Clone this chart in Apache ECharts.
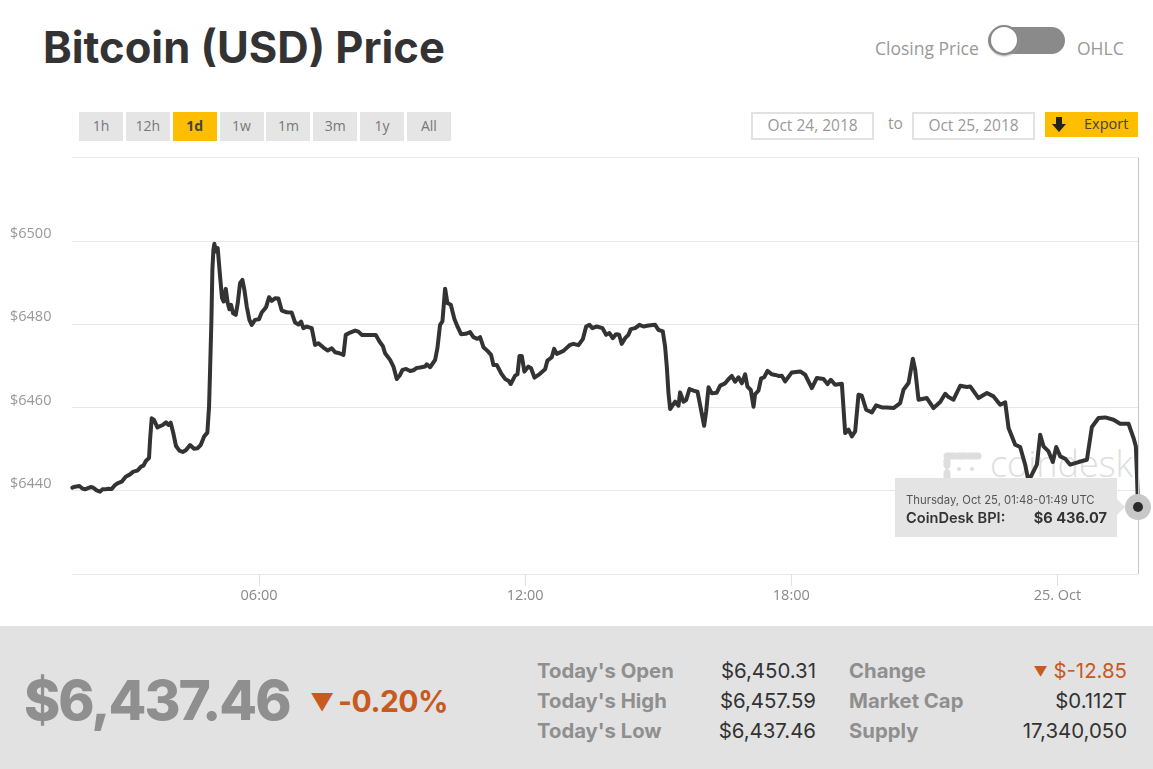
<!DOCTYPE html>
<html>
<head>
<meta charset="utf-8">
<title>Bitcoin (USD) Price</title>
<script src="https://cdn.jsdelivr.net/npm/echarts@6/dist/echarts.min.js"></script>
<style>
  html, body { margin: 0; padding: 0; background: #fff; }
  body { width: 1153px; height: 769px; position: relative; overflow: hidden; font-family: Inter, "Open Sans", sans-serif; }
  .t { position: absolute; white-space: nowrap; line-height: 1; }
  .btn { position: absolute; top: 112px; width: 44px; height: 29px; line-height: 27px; text-align: center; background: #e5e5e5; color: #777; font-size: 14px; font-family: "Open Sans", sans-serif; }
  .btn.on { background: #fdbd00; color: #444; font-weight: 700; }
  .date { position: absolute; top: 112px; width: 119px; height: 24px; line-height: 22px; border: 2px solid #e2e2e2; text-align: center; color: #999; font-size: 15.5px; font-family: "Open Sans", sans-serif; }
  #chart { position: absolute; left: 0; top: 0; width: 1153px; height: 769px; }
  #strip { position: absolute; left: 0; top: 626px; width: 1153px; height: 143px; background: #e2e2e2; }
  .lbl { font-weight: 700; font-size: 20.3px; color: #8f8f8f; }
  .val { font-size: 20.4px; color: #333; text-align: right; }
</style>
</head>
<body>
<div class="t" style="left:43px;top:26px;font-size:43.5px;font-weight:700;color:#333">Bitcoin (USD) Price</div>
<div class="t" style="left:875px;top:40px;font-size:17.5px;color:#999;font-family:'Open Sans'">Closing Price</div>
<div style="position:absolute;left:988px;top:27px;width:77px;height:27px;border-radius:14px;background:#8a8a8a"></div>
<div style="position:absolute;left:989px;top:25px;width:26px;height:26px;border-radius:50%;background:#fff;border:2px solid #888;box-shadow:0 1px 2px #999"></div>
<div class="t" style="left:1077px;top:40px;font-size:17.5px;color:#999;font-family:'Open Sans'">OHLC</div>

<div id="buttons"></div>
<div class="date" style="left:751px">Oct 24, 2018</div>
<div class="t" style="left:888px;top:116px;font-size:15.5px;color:#999;font-family:'Open Sans'">to</div>
<div class="date" style="left:912px">Oct 25, 2018</div>
<div style="position:absolute;left:1045px;top:112px;width:93px;height:25px;background:#fdbd00"></div>
<svg style="position:absolute;left:1051px;top:116px" width="16" height="17" viewBox="0 0 16 17"><path d="M5 1h6v7h4l-7 8-7-8h4z" fill="#222"/></svg>
<div class="t" style="left:1084px;top:117px;font-size:14.5px;color:#444;font-family:'Open Sans'">Export</div>

<!-- watermark sits under the chart canvas -->
<svg style="position:absolute;left:942px;top:449px" width="40" height="34" viewBox="0 0 40 34">
  <path d="M5 7h8M17 7h6M27 7h9" stroke="#dedede" stroke-width="7" stroke-linecap="round"/>
  <path d="M13 7h4M23 7h4" stroke="#dedede" stroke-width="3"/>
  <path d="M5 12v4M5 24v4" stroke="#dedede" stroke-width="7" stroke-linecap="round"/>
  <path d="M5 16v8" stroke="#dedede" stroke-width="3"/>
  <circle cx="17" cy="20" r="2" fill="#dedede"/><circle cx="30" cy="20" r="2" fill="#dedede"/>
</svg>
<div class="t" style="left:990px;top:446px;font-size:36px;color:#dedede;font-family:'Open Sans';font-weight:300">coindesk</div>

<div id="chart"></div>

<div id="strip"></div>
<div class="t" style="left:24px;top:673px;font-size:55px;font-weight:800;color:#8f8f8f;letter-spacing:-2px">$6,437.46</div>
<div class="t" style="left:310px;top:691px;font-size:24px;color:#c8591f">▼</div>
<div class="t" style="left:338px;top:686px;font-size:30px;font-weight:700;color:#c8591f;letter-spacing:-0.5px">-0.20%</div>
<div id="stats"></div>

<script>
var minutes = [
  107.5, 111.1, 117, 121.5, 124.6, 127.8, 132.3, 135.9, 140.4, 144.9, 148.1, 151.7, 156.2, 160.7, 165.2, 168.4,
  174.2, 179.6, 185.5, 190, 195.4, 200.4, 203.5, 207.2, 211.2, 212.6, 214.8, 218, 222.5, 225.2, 229.7, 234.2,
  237.4, 240.5, 244.1, 247.7, 252.3, 256.8, 261.3, 266.7, 272.1, 276.6, 281.1, 285.6, 290.1, 292.4, 293.8, 295.6,
  296.9, 298.3, 299.6, 301.9, 304.1, 307.3, 310, 312.2, 315, 317.7, 319.9, 322.2, 324.9, 328.5, 331.2, 334.3,
  337.5, 340.2, 343.4, 347, 350.1, 354.6, 360, 363.6, 369.5, 373.6, 377.2, 381.7, 386.2, 390.7, 397.5, 404.2,
  408.8, 413.3, 416.9, 420, 424.5, 431.3, 435.8, 440.3, 447.1, 453, 458.4, 462.9, 468.7, 474.2, 477.3, 483.2,
  490, 494.4, 499, 505.7, 512.5, 517.9, 522.9, 527.4, 530.5, 537.3, 541.8, 546.3, 550.8, 554, 559, 564.4,
  568.9, 573.4, 577.9, 584.6, 586.9, 591.4, 598.2, 601.3, 604.9, 608.1, 611.7, 614.8, 619.4, 624.3, 628.4, 633.3,
  639.6, 645.5, 650, 655.4, 659, 663.6, 669, 673.9, 677.1, 681.6, 687.5, 692.9, 697.4, 700.5, 706.4, 709.6,
  712.3, 715.4, 719, 724.4, 728, 732.6, 738, 747, 750.1, 756, 759.2, 762.8, 771.8, 780.8, 785.3, 792.1,
  798, 802.5, 807, 811, 816.9, 824.6, 829.5, 834, 838.5, 843, 847.1, 850.7, 855.2, 859.7, 862.9, 868.8,
  874.6, 880, 886.8, 895.8, 900.3, 906.2, 909.3, 911.6, 913.9, 916.1, 922.9, 927.4, 929.6, 934.2, 937.8, 942.3,
  947.7, 953.1, 956.7, 962.1, 964.8, 968, 972.5, 979.2, 983.8, 990.5, 995, 999.5, 1004, 1008.6, 1013.1, 1017.6,
  1020.7, 1025.2, 1028.9, 1031.1, 1035.6, 1039.2, 1043.3, 1047.8, 1053.7, 1058.2, 1062.7, 1067.2, 1071.7, 1080.7, 1092, 1098.8,
  1107.8, 1114.5, 1123.6, 1129, 1133.5, 1139.3, 1148.4, 1152.9, 1157.4, 1161.9, 1166.4, 1170.9, 1175.4, 1181.3, 1189, 1194.8,
  1202.5, 1209.3, 1218.3, 1227.3, 1231.8, 1238.6, 1244.4, 1247.6, 1252.1, 1263.4, 1272.4, 1281.4, 1288.2, 1292.7, 1299.4, 1308.5,
  1317.5, 1322, 1333.3, 1344.6, 1353.6, 1362.6, 1369.4, 1373.9, 1382.9, 1389.6, 1396.4, 1400.9, 1405.4, 1412.2, 1416.7, 1421.2,
  1428, 1433.8, 1438.4, 1443.8, 1450.5, 1457.3, 1468.6, 1479.9, 1486.6, 1495.6, 1504.7, 1515.9, 1524.9, 1536.2, 1543, 1546.1,
  1547.5, 1549
];
var prices = [
  6440.72, 6440.96, 6441.12, 6440.48, 6440.32, 6440.56, 6440.88, 6440.72, 6440.08, 6439.76, 6440.32, 6440.32, 6440.48, 6440.40, 6441.36, 6441.76,
  6442.16, 6443.36, 6443.92, 6444.57, 6444.81, 6445.77, 6446.01, 6447.21, 6447.85, 6452.18, 6457.38, 6456.98, 6455.22, 6454.82, 6455.78, 6456.42,
  6455.78, 6456.34, 6453.78, 6450.73, 6449.61, 6449.29, 6449.77, 6450.97, 6450.09, 6450.17, 6450.97, 6452.98, 6453.94, 6460.19, 6469.0, 6481.01,
  6493.03, 6497.83, 6499.27, 6497.43, 6498.23, 6491.42, 6486.22, 6485.42, 6488.46, 6485.02, 6483.57, 6484.62, 6482.61, 6482.21, 6485.02, 6489.82,
  6490.62, 6488.22, 6484.22, 6481.01, 6479.81, 6481.01, 6481.17, 6482.77, 6484.06, 6486.46, 6485.58, 6486.22, 6486.14, 6483.25, 6482.85, 6482.77,
  6480.37, 6479.89, 6480.61, 6479.01, 6479.41, 6479.01, 6475.0, 6475.4, 6474.36, 6473.64, 6474.2, 6473.24, 6473.0, 6472.6, 6477.41, 6477.97,
  6478.45, 6478.21, 6477.41, 6477.41, 6477.41, 6477.41, 6475.81, 6474.76, 6473.0, 6471.4, 6469.8, 6466.83, 6467.79, 6469.0, 6469.24, 6468.76,
  6468.92, 6469.48, 6469.56, 6469.80, 6470.36, 6469.64, 6471.40, 6474.21, 6479.83, 6480.64, 6488.51, 6485.05, 6484.65, 6481.2, 6479.43, 6477.59,
  6477.67, 6478.07, 6476.86, 6476.46, 6476.86, 6474.45, 6473.57, 6472.61, 6470.2, 6470.2, 6468.19, 6466.83, 6466.42, 6465.62, 6467.63, 6467.95,
  6472.37, 6472.37, 6468.59, 6469.8, 6469.4, 6467.15, 6467.79, 6469.15, 6471.24, 6472.05, 6474.05, 6472.85, 6473.57, 6475.02, 6475.26, 6474.94,
  6476.38, 6479.43, 6479.83, 6479.03, 6479.43, 6479.03, 6477.43, 6477.83, 6476.62, 6477.59, 6477.43, 6475.26, 6476.62, 6477.43, 6478.79, 6479.03,
  6479.83, 6479.43, 6479.67, 6479.83, 6478.63, 6478.23, 6474.61, 6469.8, 6463.37, 6459.6, 6461.37, 6460.4, 6463.61, 6461.37, 6461.77, 6464.42,
  6464.02, 6463.77, 6460.56, 6455.58, 6458.96, 6464.82, 6463.37, 6463.53, 6465.22, 6465.78, 6466.75, 6467.55, 6466.18, 6467.23, 6465.78, 6467.95,
  6464.98, 6464.18, 6460.16, 6463.21, 6464.02, 6466.99, 6467.23, 6468.75, 6467.95, 6467.79, 6467.55, 6467.6, 6466.24, 6468.4, 6468.64, 6467.84,
  6464.64, 6467.04, 6466.8, 6465.6, 6466.64, 6465.44, 6465.68, 6453.84, 6454.64, 6453.04, 6454.24, 6463.04, 6462.8, 6459.44, 6458.8, 6460.48,
  6460, 6460, 6459.84, 6461.04, 6464.24, 6465.84, 6471.68, 6469.04, 6461.84, 6462.24, 6459.84, 6461.28, 6463.28, 6462.48, 6461.84, 6465.2,
  6464.88, 6465.04, 6462.24, 6463.44, 6462.64, 6460.64, 6461.2, 6455.04, 6451.04, 6450.48, 6446.24, 6442.24, 6443.84, 6446.24, 6453.44, 6450.64,
  6449.44, 6446.88, 6450.48, 6448.24, 6447.68, 6446.24, 6446.88, 6447.44, 6455.28, 6457.44, 6457.6, 6457.04, 6456.08, 6456.08, 6452.64, 6450.64,
  6444.24, 6436.07
];
var tickMinutes = [360, 720, 1080, 1440];
var tickLabels = ['06:00', '12:00', '18:00', '25. Oct'];
var rangeButtons = ['1h', '12h', '1d', '1w', '1m', '3m', '1y', 'All'];
var statLabelsLeft = ["Today's Open", "Today's High", "Today's Low"];
var statValuesLeft = ['$6,450.31', '$6,457.59', '$6,437.46'];
var statLabelsRight = ['Change', 'Market Cap', 'Supply'];
var statValuesRight = ['<span style="font-size:14px;position:relative;top:-1px">▼</span> $-12.85', '$0.112T', '17,340,050'];

// range buttons
var html = '';
rangeButtons.forEach(function (b, i) {
  html += '<div class="btn' + (b === '1d' ? ' on' : '') + '" style="left:' + (79 + i * 46.85) + 'px">' + b + '</div>';
});
document.getElementById('buttons').innerHTML = html;

// stats block
html = '';
statLabelsLeft.forEach(function (l, i) {
  var top = 661 + i * 30;
  html += '<div class="t lbl" style="left:537px;top:' + top + 'px">' + l + '</div>';
  html += '<div class="t val" style="right:337px;top:' + top + 'px">' + statValuesLeft[i] + '</div>';
  html += '<div class="t lbl" style="left:849px;top:' + top + 'px">' + statLabelsRight[i] + '</div>';
  html += '<div class="t val" style="right:26px;top:' + top + 'px;' + (i === 0 ? 'color:#c8591f' : '') + '">' + statValuesRight[i] + '</div>';
});
document.getElementById('stats').innerHTML = html;

var lineData = minutes.map(function (m, i) { return [m, prices[i]]; });
var lastPoint = lineData[lineData.length - 1];

var chart = echarts.init(document.getElementById('chart'), null, { width: 1153, height: 769 });
chart.setOption({
  animation: false,
  backgroundColor: 'transparent',
  grid: { left: 72, top: 157.5, width: 1066, height: 416.5, containLabel: false },
  tooltip: {
    trigger: 'item',
    triggerOn: 'none',
    alwaysShowContent: true,
    position: [895, 478],
    padding: 0,
    borderWidth: 0,
    backgroundColor: '#e4e4e4',
    transitionDuration: 0,
    extraCssText: 'box-shadow:none;border-radius:0;',
    formatter: function () {
      return '<div style="position:relative;width:222px;height:59px;font-family:Inter,sans-serif;color:#333">' +
        '<div style="position:absolute;left:11px;top:15px;font-size:11.3px;line-height:14px;color:#555;white-space:nowrap">Thursday, Oct 25, 01:48-01:49 UTC</div>' +
        '<div style="position:absolute;left:11px;top:31px;font-size:14.6px;line-height:18px;font-weight:600">CoinDesk BPI:</div>' +
        '<div style="position:absolute;right:10px;top:31px;font-size:14.6px;line-height:18px;font-weight:700">$6 436.07</div>' +
        '<div style="position:absolute;left:222px;top:21px;width:0;height:0;border-top:8px solid transparent;border-bottom:8px solid transparent;border-left:8px solid #e4e4e4"></div>' +
        '</div>';
    }
  },
  xAxis: {
    type: 'value',
    min: 107,
    max: 1549,
    splitLine: { show: false },
    axisLine: { show: false },
    axisTick: { show: true, customValues: tickMinutes, length: 12, lineStyle: { color: '#e0e0e0', width: 1 } },
    axisLabel: {
      customValues: tickMinutes,
      margin: 14,
      fontSize: 14.5,
      color: '#888',
      fontFamily: 'Open Sans',
      formatter: function (value) {
        return tickLabels[tickMinutes.indexOf(value)];
      }
    }
  },
  yAxis: {
    type: 'value',
    min: 6420,
    max: 6520,
    interval: 20,
    axisLine: { show: false },
    axisTick: { show: false },
    splitLine: { lineStyle: { color: '#e8e8e8', width: 1 } },
    axisLabel: {
      showMinLabel: false,
      showMaxLabel: false,
      margin: 62,
      align: 'left',
      verticalAlign: 'bottom',
      lineHeight: 14,
      fontSize: 14.5,
      color: '#999',
      fontFamily: 'Open Sans',
      formatter: function (value) {
        return '$' + value;
      }
    }
  },
  series: [{
    name: 'CoinDesk BPI',
    type: 'line',
    data: lineData,
    showSymbol: false,
    symbol: 'none',
    smooth: false,
    z: 3,
    lineStyle: { color: '#333', width: 4, join: 'round', cap: 'round' },
    markLine: {
      silent: true,
      symbol: 'none',
      label: { show: false },
      lineStyle: { color: '#c8c8c8', width: 1, type: 'solid' },
      data: [{ xAxis: 1549 }]
    }
  }, {
    name: 'halo',
    type: 'scatter',
    data: [lastPoint],
    symbolSize: 26,
    clip: false,
    z: 4,
    itemStyle: { color: '#c8c8c8', opacity: 1 }
  }, {
    name: 'dot',
    type: 'scatter',
    data: [lastPoint],
    symbolSize: 10,
    clip: false,
    z: 5,
    itemStyle: { color: '#2b2b2b', opacity: 1 }
  }]
});
chart.dispatchAction({ type: 'showTip', seriesIndex: 2, dataIndex: 0 });
</script>
</body>
</html>
